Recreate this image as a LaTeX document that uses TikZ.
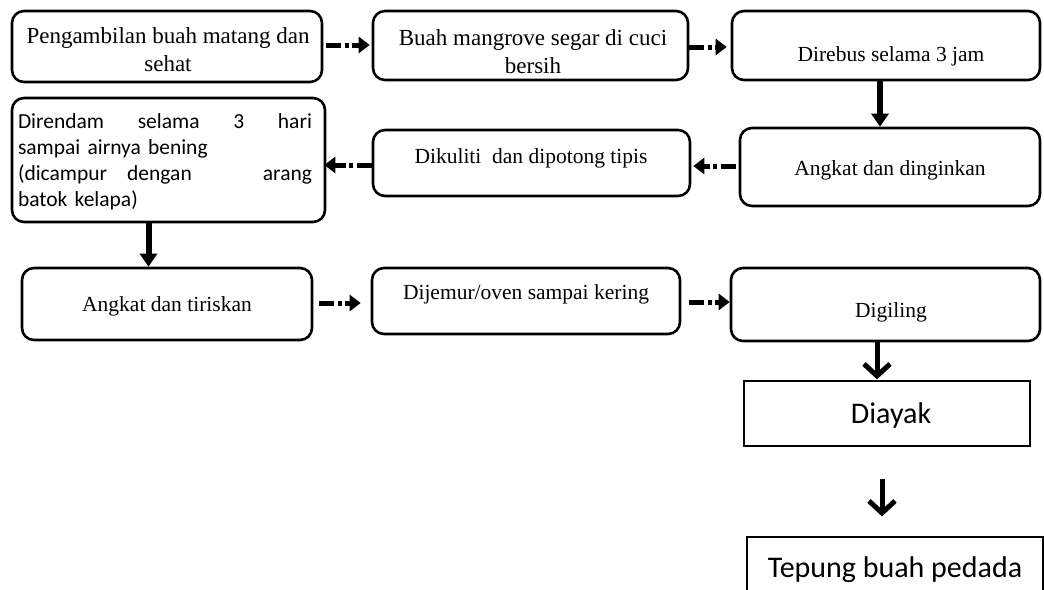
\documentclass[tikz,border=0pt]{standalone}
\usepackage{fontspec}
\setmainfont{Liberation Serif}
\newfontfamily\calfont{Carlito}
\usetikzlibrary{arrows.meta}
\begin{document}
\begin{tikzpicture}[x=1pt,y=-1pt,
  rbox/.style={draw, line width=2.6pt, rounded corners=12pt, inner sep=0pt},
  sqbox/.style={draw, line width=1.3pt, inner sep=0pt},
  stext/.style={inner sep=0pt, font=\fontsize{21.5}{30}\selectfont, align=center},
  btext/.style={inner sep=0pt, font=\fontsize{23}{28}\selectfont, align=center},
  ctext/.style={inner sep=0pt, font=\calfont\fontsize{30}{36}\selectfont},
  harr/.style={line width=5pt, dash pattern=on 15pt off 4pt on 4pt off 3pt on 80pt, -{Triangle[length=11pt,width=16pt]}},
  varr/.style={line width=6pt, -{Triangle[length=13pt,width=17pt]}},
  carr/.style={line width=5pt, -{Straight Barb[length=12pt,width=26pt,line width=5pt]}}
]
\clip (0,0) rectangle (1044,589);
\fill[white] (0,0) rectangle (1044,589);

% boxes
\node[rbox, minimum width=310pt, minimum height=71pt] (A) at (167,46.5) {};
\node[rbox, minimum width=315pt, minimum height=69pt] (B) at (530.5,45.5) {};
\node[rbox, minimum width=308pt, minimum height=69pt] (C) at (886,45.5) {};
\node[rbox, minimum width=313pt, minimum height=124pt] (D) at (168.5,160) {};
\node[rbox, minimum width=317pt, minimum height=66pt] (E) at (531.5,163) {};
\node[rbox, minimum width=300pt, minimum height=78pt] (F) at (890,167) {};
\node[rbox, minimum width=290pt, minimum height=72pt] (G) at (167,304) {};
\node[rbox, minimum width=308pt, minimum height=66pt] (H) at (526,301) {};
\node[rbox, minimum width=309pt, minimum height=73pt] (I) at (885.5,304.5) {};
\node[sqbox, minimum width=286pt, minimum height=65pt] (J) at (887,413.5) {};
\node[sqbox, minimum width=296pt, minimum height=63pt] (K) at (895,568.5) {};

% texts
\node[btext] (tA) at (168,50) {Pengambilan buah matang dan\\sehat};
\node[btext] (tB) at (533,52) {Buah mangrove segar di cuci\\bersih};
\node[stext] (tC) at (891,56) {Direbus selama 3 jam};
\node[inner sep=0pt, text width=294pt, align=left, font=\calfont\fontsize{21.5}{26}\selectfont] (tD) at (165,162)
  {\makebox[294pt][l]{Direndam\hfill selama\hfill 3\hfill hari}\\
   sampai airnya bening\\
   \makebox[294pt][l]{(dicampur\hspace{20pt}dengan\hfill arang}\\
   batok kelapa)};
\node[stext] (tE) at (531,158) {Dikuliti\ \ dan dipotong tipis};
\node[stext] (tF) at (890,170) {Angkat dan dinginkan};
\node[stext] (tG) at (167,306) {Angkat dan tiriskan};
\node[stext] (tH) at (526,294) {Dijemur/oven sampai kering};
\node[stext] (tI) at (891,312) {Digiling};
\node[ctext] (tJ) at (891,415) {Diayak};
\node[ctext] (tK) at (895,570) {Tepung buah pedada};

% horizontal arrows
\draw[harr, shorten <=3pt, shorten >=2pt] ([yshift=1.5pt]A.east) -- ([yshift=1.5pt]A.east -| B.west);
\draw[harr, shorten >=4pt] ([yshift=-1.5pt]B.east) -- ([yshift=-1.5pt]B.east -| C.west);
\draw[harr, shorten <=3pt, shorten >=2pt] ([yshift=1pt]F.west) -- ([yshift=1pt]F.west -| E.east);
\draw[harr, shorten >=-2pt] ([yshift=-2pt]E.west) -- ([yshift=-2pt]E.west -| D.east);
\draw[harr, shorten <=6pt, shorten >=10pt] ([yshift=1pt]G.east) -- ([yshift=1pt]G.east -| H.west);
\draw[harr, shorten <=8pt] ([yshift=-1pt]H.east) -- ([yshift=-1pt]H.east -| I.west);

% vertical arrows
\draw[varr] ([xshift=-6pt]C.south) -- ([xshift=-6pt]C.south |- F.north);
\draw[varr] ([xshift=-20pt]D.south) -- ([xshift=-20pt]D.south |- G.north);
\draw[carr, shorten >=1pt] ([xshift=-8.5pt]I.south) -- ([xshift=-8.5pt]I.south |- J.north);
\draw[carr, shorten <=32pt, shorten >=20pt] ([xshift=-5pt]J.south) -- ([xshift=-5pt]J.south |- K.north);
\end{tikzpicture}
\end{document}
